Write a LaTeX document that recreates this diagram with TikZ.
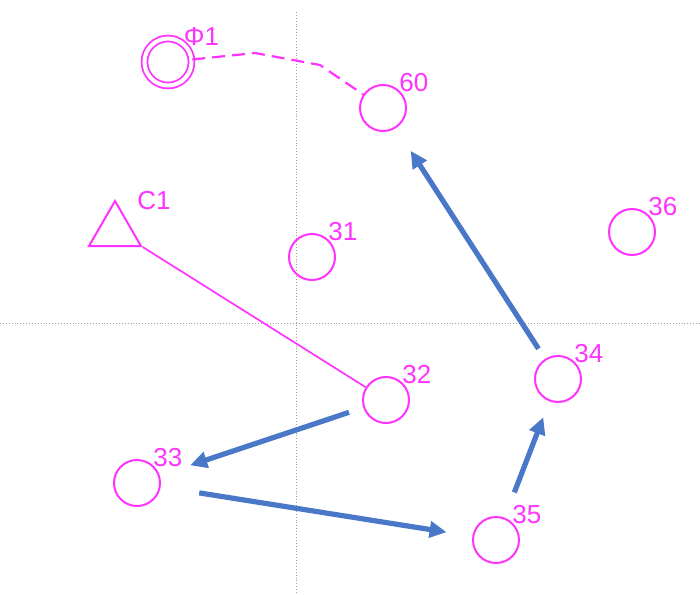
\documentclass[tikz,border=0pt]{standalone}
\usepackage{fontspec}
\setmainfont{Liberation Sans}
\usetikzlibrary{arrows.meta,shapes.geometric}
\definecolor{pink}{HTML}{FF33FF}
\definecolor{flow}{HTML}{4A78C8}
\definecolor{axis}{HTML}{A0A0A0}
\tikzset{
  lbl/.style={font=\fontsize{26}{28}\selectfont,text=pink,inner sep=2pt},
  well/.style={circle,draw=pink,line width=2pt,minimum size=46pt,inner sep=0pt},
  phiwell/.style={circle,draw=pink,line width=1.8pt,double=white,double distance=4pt,minimum size=47pt,inner sep=0pt},
  station/.style={regular polygon,regular polygon sides=3,draw=pink,line width=2pt,minimum size=60pt,inner sep=0pt},
  grid/.style={draw=axis,line width=0.9pt,dotted},
  link/.style={draw=pink,line width=1.7pt},
  pipe/.style={draw=pink,line width=2.2pt,dash pattern=on 13pt off 7pt},
  move/.style={-{Triangle[length=17pt,width=16pt]},draw=flow,line width=5.2pt},
}

\begin{document}
\begin{tikzpicture}[x=1pt,y=-1pt]
  \useasboundingbox (0,0) rectangle (700,594);
  % axes
  \draw[grid] (296,12) -- (296,594);
  \draw[grid] (0,323) -- (700,323);

  % wells
  \node[phiwell,label={[lbl,label distance=-5pt]45:Φ1}] (phi1) at (168,62) {};
  \node[well,label={[lbl,label distance=-4pt]45:60}] (c60) at (383,108) {};
  \node[well,label={[lbl,label distance=-4pt]45:31}] (c31) at (312,257) {};
  \node[well,label={[lbl,label distance=-4pt]45:36}] (c36) at (632,232) {};
  \node[well,label={[lbl,label distance=-4pt]45:32}] (c32) at (386,400) {};
  \node[well,label={[lbl,label distance=-4pt]45:34}] (c34) at (558,379) {};
  \node[well,label={[lbl,label distance=-4pt]45:33}] (c33) at (137,483) {};
  \node[well,label={[lbl,label distance=-4pt]45:35}] (c35) at (496,540) {};

  \node[station] (c1) at (115,231) {};
  \node[lbl] (c1lbl) at (154,201) {C1};

  % links
  \coordinate (bend1) at (255,53);
  \coordinate (bend2) at (320,65);
  \draw[pipe] (phi1) -- (bend1) -- (bend2) -- (c60);
  \draw[link] (c1.corner 3) -- (c32);

  % route
  \draw[move,shorten <=15pt,shorten >=32pt] (c32) -- (c33);
  \draw[move,shorten <=39pt,shorten >=26pt] (c33) -- (c35);
  \draw[move,shorten <=27pt,shorten >=17pt] (c35) -- (c34);
  \draw[move,shorten <=12pt,shorten >=27pt] (c34) -- (c60);
\end{tikzpicture}
\end{document}
